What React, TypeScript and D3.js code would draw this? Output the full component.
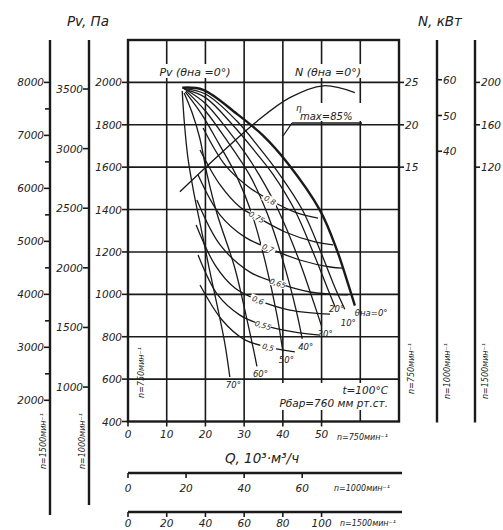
import React from 'react';
import * as d3 from 'd3';

// ---- data ----
const qTicks750 = [0, 10, 20, 30, 40, 50];
const qTicks1000 = [0, 20, 40, 60];
const qTicks1500 = [0, 20, 40, 60, 80, 100];
const pTicks750 = [400, 600, 800, 1000, 1200, 1400, 1600, 1800, 2000];
const pTicks1000 = [1000, 1500, 2000, 2500, 3000, 3500];
const pTicks1500 = [2000, 3000, 4000, 5000, 6000, 7000, 8000];
const pMinor1500 = [2500, 3500, 4500, 5500, 6500, 7500];
const nTicks750 = [15, 20, 25];
const nTicks1000 = [40, 50, 60];
const nTicks1500 = [120, 160, 200];
const gridQ = [10, 20, 30, 40, 50, 60];
const gridP = [600, 800, 1000, 1200, 1400, 1600, 1800, 2000];

const thetaLabels = ['θна=0°', '10°', '20°', '30°', '40°', '50°', '60°', '70°'];
const pv0: [number, number][] = [[14.0, 1975], [19.4, 1965], [28.1, 1852], [34.9, 1749], [41.1, 1622], [49.6, 1396], [54.0, 1207], [56.8, 1052], [58.6, 947]];
const pv10: [number, number][] = [[14.2, 1972], [20, 1945], [28, 1820], [34, 1690], [39, 1570], [45, 1400], [50, 1190], [53.5, 1030], [56, 930]];
const pv20: [number, number][] = [[14.5, 1968], [20, 1928], [27, 1800], [33, 1670], [37.5, 1565], [43, 1400], [48, 1190], [51.5, 1030], [53.5, 940]];
const pv30: [number, number][] = [[15, 1965], [20, 1900], [26, 1770], [30.5, 1660], [34, 1560], [39, 1390], [44, 1170], [48, 960], [50, 850]];
const pv40: [number, number][] = [[15, 1960], [20, 1865], [25, 1740], [31.5, 1560], [36, 1380], [40, 1160], [43.5, 920], [45, 790]];
const pv50: [number, number][] = [[14.8, 1955], [19, 1850], [23.5, 1710], [28, 1560], [32, 1380], [35.5, 1150], [38.5, 900], [40, 730]];
const pv60: [number, number][] = [[14.5, 1950], [16.5, 1860], [18.5, 1740], [20.5, 1560], [23, 1380], [27.5, 1130], [30.5, 900], [32.3, 750], [33.3, 660]];
const pv70: [number, number][] = [[14, 1960], [14.6, 1800], [15.5, 1640], [17, 1480], [19, 1300], [21, 1120], [23, 950], [25, 770], [26.3, 610]];
const pressureCurves = [pv0, pv10, pv20, pv30, pv40, pv50, pv60, pv70];

const etaLabels = ['0,8', '0,75', '0,7', '0,65', '0,6', '0,55', '0,5'];
const eta80: [number, number][] = [[19.4, 1785], [25.1, 1610], [31.5, 1502], [36.7, 1445], [43.1, 1388], [49.1, 1360]];
const eta75: [number, number][] = [[18.6, 1681], [23.8, 1516], [28.9, 1412], [33.3, 1365], [40.6, 1294], [48.3, 1247], [53.0, 1233]];
const eta70: [number, number][] = [[18.1, 1563], [23.8, 1374], [30.2, 1270], [36.2, 1219], [44.4, 1162], [52.2, 1129], [55.5, 1124]];
const eta65: [number, number][] = [[17.8, 1445], [23.8, 1233], [31.5, 1105], [38.7, 1053], [47.0, 1011], [56.8, 997]];
const eta60: [number, number][] = [[17.6, 1327], [22.5, 1138], [27.6, 1030], [33.6, 973], [41.8, 926], [52.2, 907]];
const eta55: [number, number][] = [[18.1, 1186], [23.2, 997], [28.9, 902], [34.9, 855], [43.1, 822], [49.6, 808]];
const eta50: [number, number][] = [[18.6, 1044], [24.3, 879], [30.2, 785], [36.2, 751], [43.1, 728]];
const etaCurves = [eta80, eta75, eta70, eta65, eta60, eta55, eta50];
const etaLabelAt = [3, 3, 3, 3, 3, 3, 3];

const nCurve0: [number, number][] = [[13.4, 12.1], [33.3, 20.4], [41.8, 23.2], [50.4, 24.6], [58.6, 23.8]];

// ---- layout ----
const W = 503, H = 530;
const x = d3.scaleLinear().domain([0, 70]).range([128, 399]);
const y = d3.scaleLinear().domain([400, 2200]).range([421.5, 40]);
const yN = d3.scaleLinear().domain([0, 25]).range([y(1000), y(2000)]);
const k1000p = (1000 / 750) ** 2, k1500p = 4;
const k1000n = (1000 / 750) ** 3, k1500n = 8;

const FONT = "'DejaVu Sans', Arial, sans-serif";
const tStyle: React.CSSProperties = { fontFamily: FONT, fontStyle: 'italic', fontSize: 10.5, fill: '#222' };
const INK = '#1a1a1a';

const line = d3.line<[number, number]>().x(d => x(d[0])).y(d => y(d[1])).curve(d3.curveCatmullRom.alpha(0.5));
const lineN = d3.line<[number, number]>().x(d => x(d[0])).y(d => yN(d[1])).curve(d3.curveCatmullRom.alpha(0.5));

function angleAt(c: [number, number][], i: number) {
  const a = c[Math.max(0, i - 1)], b = c[Math.min(c.length - 1, i + 1)];
  return (Math.atan2(y(b[1]) - y(a[1]), x(b[0]) - x(a[0])) * 180) / Math.PI;
}

export default function App() {
  const top = y(2200), bot = y(400), left = x(0), right = x(70);
  const axOuterL = 50, axMidL = 89, axMidR = 437, axOuterR = 475;
  const small = { ...tStyle, fontSize: 8 };
  return (
    <svg width={W} height={H} style={{ position: 'absolute', left: 0, top: 0, background: '#fff' }}>
      <rect x={0} y={0} width={W} height={H} fill="#fff" />
      {/* grid */}
      {gridQ.map(q => <line key={'gq' + q} x1={x(q)} x2={x(q)} y1={top} y2={bot} stroke={INK} strokeWidth={1.6} />)}
      {gridP.map(p => <line key={'gp' + p} x1={left} x2={right} y1={y(p)} y2={y(p)} stroke={INK} strokeWidth={1.6} />)}
      {/* curves */}
      {etaCurves.map((c, i) => <path key={'eta' + i} d={line(c) || ''} fill="none" stroke={INK} strokeWidth={1.3} />)}
      {pressureCurves.map((c, i) => <path key={'pv' + i} d={line(c) || ''} fill="none" stroke={INK} strokeWidth={i === 0 ? 2.4 : 1.3} />)}
      <path d={lineN(nCurve0) || ''} fill="none" stroke={INK} strokeWidth={1.3} />
      {/* theta labels */}
      {pressureCurves.map((c, i) => {
        const e = c[c.length - 1];
        const dx = i === 0 ? 0 : i === 2 ? -6 : -4;
        const dy = i === 0 ? 10 : i === 1 ? 17 : i === 2 ? 5 : 11;
        return <text key={'tl' + i} x={x(e[0]) + dx} y={y(e[1]) + dy} style={{ ...tStyle, fontSize: 8.5 }}>{thetaLabels[i]}</text>;
      })}
      {etaCurves.map((c, i) => {
        const e = c[etaLabelAt[i]];
        const px = x(e[0]), py = y(e[1]);
        const a = angleAt(c, etaLabelAt[i]);
        return (
          <g key={'el' + i} transform={`translate(${px},${py}) rotate(${a})`}>
            <rect x={-8} y={-4} width={16} height={8} fill="#fff" />
            <text x={0} y={3} textAnchor="middle" style={{ ...tStyle, fontSize: 7.5 }}>{etaLabels[i]}</text>
          </g>
        );
      })}
      {/* frame */}
      <rect x={left} y={top} width={right - left} height={bot - top} fill="none" stroke={INK} strokeWidth={2.4} />
      {/* inner left axis */}
      {pTicks750.map(p => (
        <g key={'pl' + p}>
          <line x1={left - 6} x2={left} y1={y(p)} y2={y(p)} stroke={INK} strokeWidth={1.6} />
          <text x={left - 6} y={y(p) + 4} textAnchor="end" style={tStyle}>{p}</text>
        </g>
      ))}
      {/* middle left axis */}
      <line x1={axMidL} x2={axMidL} y1={top} y2={505} stroke={INK} strokeWidth={2.4} />
      {pTicks1000.map(p => (
        <g key={'pm' + p}>
          <line x1={axMidL - 6} x2={axMidL} y1={y(p / k1000p)} y2={y(p / k1000p)} stroke={INK} strokeWidth={1.6} />
          <text x={axMidL - 6} y={y(p / k1000p) + 4} textAnchor="end" style={tStyle}>{p}</text>
        </g>
      ))}
      {/* outer left axis */}
      <line x1={axOuterL} x2={axOuterL} y1={top} y2={515} stroke={INK} strokeWidth={2.4} />
      {pTicks1500.map(p => (
        <g key={'po' + p}>
          <line x1={axOuterL - 6} x2={axOuterL} y1={y(p / k1500p)} y2={y(p / k1500p)} stroke={INK} strokeWidth={1.6} />
          <text x={axOuterL - 6} y={y(p / k1500p) + 4} textAnchor="end" style={tStyle}>{p}</text>
        </g>
      ))}
      {pMinor1500.map(p => <line key={'pmi' + p} x1={axOuterL - 5} x2={axOuterL} y1={y(p / k1500p)} y2={y(p / k1500p)} stroke={INK} strokeWidth={1.6} />)}
      <text x={88} y={26} textAnchor="middle" style={{ ...tStyle, fontSize: 13.5 }}>Pv, Па</text>
      <text transform={`translate(${axOuterL - 4},413) rotate(-90)`} textAnchor="end" style={small}>n=1500мин⁻¹</text>
      <text transform={`translate(${axMidL - 4},413) rotate(-90)`} textAnchor="end" style={small}>n=1000мин⁻¹</text>
      <text transform={`translate(${left + 16},347) rotate(-90)`} textAnchor="end" style={small}>n=750мин⁻¹</text>
      {/* right axes */}
      {nTicks750.map(n => (
        <g key={'nr' + n}>
          <line x1={right} x2={right + 5} y1={yN(n)} y2={yN(n)} stroke={INK} strokeWidth={1.6} />
          <text x={right + 6} y={yN(n) + 4} style={tStyle}>{n}</text>
        </g>
      ))}
      <line x1={axMidR} x2={axMidR} y1={top} y2={bot + 1} stroke={INK} strokeWidth={2.4} />
      {nTicks1000.map(n => (
        <g key={'nm' + n}>
          <line x1={axMidR} x2={axMidR + 5} y1={yN(n / k1000n)} y2={yN(n / k1000n)} stroke={INK} strokeWidth={1.6} />
          <text x={axMidR + 6} y={yN(n / k1000n) + 4} style={tStyle}>{n}</text>
        </g>
      ))}
      <line x1={axOuterR} x2={axOuterR} y1={top} y2={bot + 1} stroke={INK} strokeWidth={2.4} />
      {nTicks1500.map(n => (
        <g key={'no' + n}>
          <line x1={axOuterR} x2={axOuterR + 5} y1={yN(n / k1500n)} y2={yN(n / k1500n)} stroke={INK} strokeWidth={1.6} />
          <text x={axOuterR + 6} y={yN(n / k1500n) + 4} style={tStyle}>{n}</text>
        </g>
      ))}
      <text x={440} y={26} textAnchor="middle" style={{ ...tStyle, fontSize: 13.5 }}>N, кВт</text>
      <text transform={`translate(${right + 15},343) rotate(-90)`} textAnchor="end" style={small}>n=750мин⁻¹</text>
      <text transform={`translate(${axMidR + 13},343) rotate(-90)`} textAnchor="end" style={small}>n=1000мин⁻¹</text>
      <text transform={`translate(${axOuterR + 13},343) rotate(-90)`} textAnchor="end" style={small}>n=1500мин⁻¹</text>
      {/* bottom axes */}
      {qTicks750.map(q => (
        <g key={'qa' + q}>
          <line x1={x(q)} x2={x(q)} y1={bot} y2={bot + 5} stroke={INK} strokeWidth={1.6} />
          <text x={x(q)} y={bot + 16} textAnchor="middle" style={tStyle}>{q}</text>
        </g>
      ))}
      <text x={337} y={440} style={small}>n=750мин⁻¹</text>
      <text x={262} y={463} textAnchor="middle" style={{ ...tStyle, fontSize: 13.5 }}>Q, 10³·м³/ч</text>
      <line x1={left} x2={402} y1={473} y2={473} stroke={INK} strokeWidth={2.4} />
      {qTicks1000.map(q => (
        <g key={'qb' + q}>
          <line x1={x(q * 0.75)} x2={x(q * 0.75)} y1={473} y2={478} stroke={INK} strokeWidth={1.6} />
          <text x={x(q * 0.75)} y={492} textAnchor="middle" style={tStyle}>{q}</text>
        </g>
      ))}
      <text x={334} y={491} style={small}>n=1000мин⁻¹</text>
      <line x1={left} x2={402} y1={512} y2={512} stroke={INK} strokeWidth={2.4} />
      {qTicks1500.map(q => (
        <g key={'qc' + q}>
          <line x1={x(q * 0.5)} x2={x(q * 0.5)} y1={512} y2={517} stroke={INK} strokeWidth={1.6} />
          <text x={x(q * 0.5)} y={527} textAnchor="middle" style={tStyle}>{q}</text>
        </g>
      ))}
      <text x={340} y={526} style={small}>n=1500мин⁻¹</text>
      {/* annotations */}
      <rect x={154} y={64} width={82} height={14} fill="#fff" />
      <text x={195} y={76} textAnchor="middle" style={{ ...tStyle, fontSize: 11 }}>Pv (θна =0°)</text>
      <rect x={290} y={64} width={76} height={14} fill="#fff" />
      <text x={328} y={76} textAnchor="middle" style={{ ...tStyle, fontSize: 11 }}>N (θна =0°)</text>
      <rect x={294} y={103} width={68} height={18} fill="#fff" />
      <text x={296} y={111} style={{ ...tStyle, fontSize: 9 }}>η</text>
      <text x={300} y={120} style={{ ...tStyle, fontSize: 10 }}>max=85%</text>
      <line x1={292} x2={362} y1={123} y2={123} stroke={INK} strokeWidth={1.3} />
      <line x1={292} x2={283} y1={123} y2={136} stroke={INK} strokeWidth={1.3} />
      <rect x={272} y={383} width={120} height={27} fill="#fff" />
      <text x={388} y={394} textAnchor="end" style={{ ...tStyle, fontSize: 10.5 }}>t=100°C</text>
      <text x={388} y={407} textAnchor="end" style={{ ...tStyle, fontSize: 10.5 }}>Pбар=760 мм рт.ст.</text>
    </svg>
  );
}
